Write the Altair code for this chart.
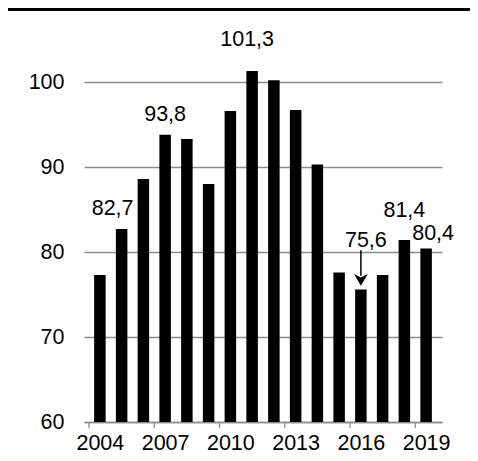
import altair as alt
import pandas as pd

years = list(range(2004, 2020))
values = [77.3, 82.7, 88.6, 93.8, 93.3, 88.0, 96.6, 101.3, 100.2, 96.7, 90.3, 77.6, 75.6, 77.3, 81.4, 80.4]
labeled_years = [2005, 2007, 2011, 2016, 2018, 2019]
label_offsets = {2005: (-9, -14), 2007: (0, -14), 2011: (-5, -25), 2016: (5, -42), 2018: (0, -23), 2019: (7, -9)}
tick_years = [2004, 2007, 2010, 2013, 2016, 2019]
tick_marks = [2003.5, 2006.5, 2009.5, 2012.5, 2015.5, 2018.5]
arrow_year = 2016
arrow_from = 80.2
arrow_to = 77.2
arrow_head = 76.85

df = pd.DataFrame({"year": years, "value": values})
df["label"] = [f"{v:.1f}".replace(".", ",") for v in values]

FONT = "Liberation Sans"
FS = 21.5
W, H = 358, 340

x = alt.X("year:Q", scale=alt.Scale(domain=[2003.5, 2019.5], nice=False, zero=False),
          axis=alt.Axis(values=tick_years, format="d", ticks=False, grid=False, domain=True,
                        domainColor="#8c8c8c", domainWidth=1.3, labelFont=FONT, labelFontSize=FS,
                        labelColor="#000", labelPadding=10, title=None, labelFlush=False))
y = alt.Y("value:Q", scale=alt.Scale(domain=[60, 100], nice=False, zero=False),
          axis=alt.Axis(values=[60, 70, 80, 90, 100], ticks=False, domain=False, grid=True,
                        gridColor="#8c8c8c", gridWidth=1.3, labelFont=FONT, labelFontSize=FS,
                        labelColor="#000", labelPadding=20, title=None))

base = alt.Chart(df)
bars = base.mark_bar(color="#000", size=11.5, clip=False).encode(x=x, y=y, y2=alt.datum(60))

ticks = alt.Chart(pd.DataFrame({"t": tick_marks})).mark_rule(color="#8c8c8c", strokeWidth=1.3).encode(
    x=alt.X("t:Q"), y=alt.value(H), y2=alt.value(H + 6))

texts = []
for yr in labeled_years:
    dx, dy = label_offsets[yr]
    texts.append(base.transform_filter(alt.datum.year == yr).mark_text(
        font=FONT, fontSize=FS, color="#000", baseline="alphabetic", align="center",
        dx=dx, dy=dy).encode(x=alt.X("year:Q"), y=alt.Y("value:Q"), text="label:N"))

arrow_df = pd.DataFrame({"year": [arrow_year], "a": [arrow_from], "b": [arrow_to], "h": [arrow_head]})
arrow_line = alt.Chart(arrow_df).mark_rule(color="#000", strokeWidth=1.5).encode(
    x="year:Q", y="a:Q", y2="b:Q")
arrow_tip = alt.Chart(arrow_df).mark_point(
    shape="M0,1 L-1,-0.7 L0,-0.2 L1,-0.7 Z", filled=True, color="#000", opacity=1, size=190).encode(
    x="year:Q", y="h:Q")

top_rule = alt.Chart(arrow_df).mark_rule(color="#000", strokeWidth=4).encode(
    x=alt.value(-80), x2=alt.value(W + 40), y=alt.value(-73))

chart = alt.layer(bars, ticks, *texts, arrow_line, arrow_tip, top_rule).properties(
    width=W, height=H,
    autosize=alt.AutoSizeParams(type="none"),
    padding={"left": 76, "top": 74, "right": 28, "bottom": 38},
).configure(background="#ffffff").configure_view(stroke=None, strokeWidth=0)

chart.save("out.html", embed_options={"renderer": "svg", "actions": False})
